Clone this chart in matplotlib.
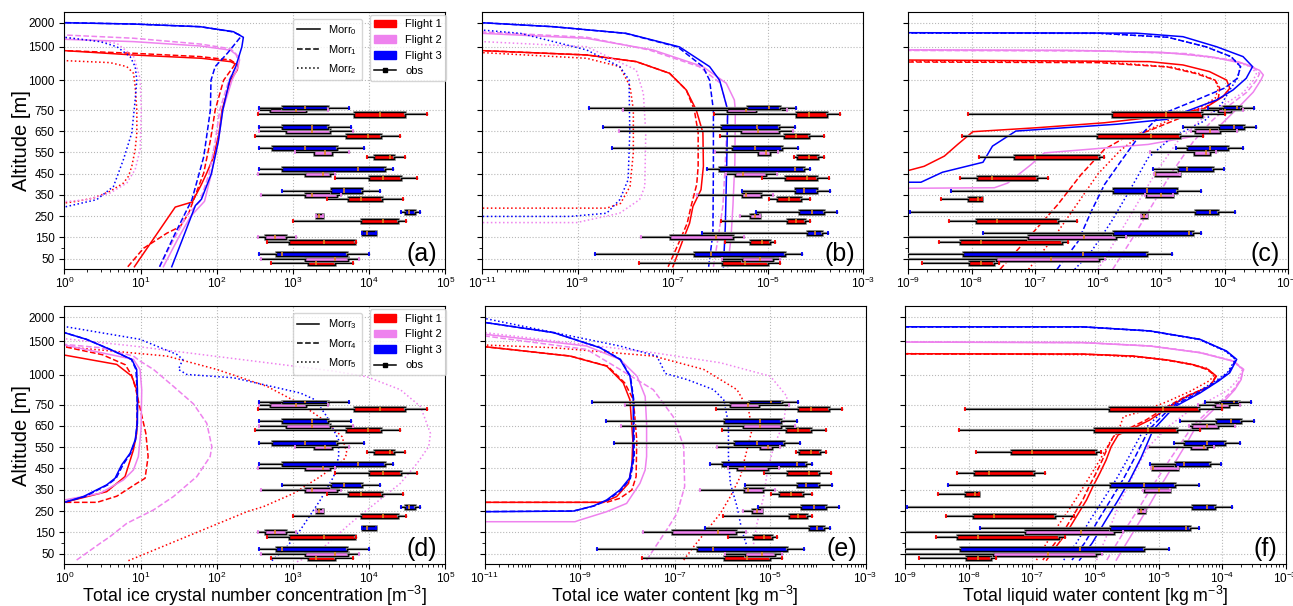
import numpy as np
import matplotlib
matplotlib.use("Agg")
import matplotlib.pyplot as plt
from matplotlib.patches import Patch
from matplotlib.lines import Line2D
import matplotlib.patheffects as pe

plt.rcParams['font.family'] = ['Liberation Sans', 'DejaVu Sans']
plt.rcParams['mathtext.fontset'] = 'custom'
plt.rcParams['mathtext.rm'] = 'Liberation Sans'
plt.rcParams['mathtext.it'] = 'Liberation Sans:italic'
plt.rcParams['mathtext.bf'] = 'Liberation Sans:bold'

# ---------------- observation levels and statistics (log10: min, q1, median, q3, max)
LEVELS = [50, 150, 250, 350, 450, 550, 650, 750]

NICE_F1 = [[2.711, 3.202, 3.307, 3.553, 3.789], [2.654, 2.943, 3.404, 3.82, 3.829],
           [2.996, 3.89, 4.184, 4.382, 4.487], [3.447, 3.719, 3.895, 4.171, 4.443],
           [3.557, 3.996, 4.184, 4.417, 4.623], [3.974, 4.070, 4.272, 4.329, 4.469],
           [2.509, 3.702, 3.987, 4.154, 4.404], [2.548, 3.798, 4.149, 4.469, 4.754]]
NICE_F2 = [[2.583, 3.154, 3.557, 3.724, 3.873], [2.548, 2.632, 2.768, 2.912, 3.04],
           [3.298, 3.298, 3.346, 3.39, 3.39], [2.583, 3.158, 3.246, 3.575, 3.636],
           [2.548, 3.154, 3.399, 3.487, 3.557], [3.022, 3.272, 3.417, 3.518, 3.732],
           [2.557, 2.908, 3.25, 3.487, 3.785], [2.557, 2.706, 3.035, 3.175, 3.461]]
NICE_F3 = [[2.557, 2.772, 2.86, 3.711, 4.004], [3.912, 3.912, 3.974, 4.088, 4.088],
           [4.421, 4.474, 4.526, 4.605, 4.662], [2.855, 3.504, 3.667, 3.908, 4.149],
           [2.557, 2.86, 3.855, 4.206, 4.311], [2.557, 2.732, 3.158, 3.579, 3.93],
           [2.557, 2.851, 3.25, 3.461, 3.768], [2.557, 2.855, 3.162, 3.456, 3.741]]

IWC_F1 = [[-7.702, -5.975, -5.491, -5.0, -4.761], [-5.898, -5.372, -5.14, -4.965, -4.86],
          [-5.996, -4.614, -4.411, -4.228, -4.116], [-4.979, -4.825, -4.558, -4.305, -4.116],
          [-5.133, -4.656, -4.186, -3.975, -3.716], [-4.453, -4.389, -4.137, -3.954, -3.828],
          [-6.011, -4.677, -4.425, -4.137, -3.835], [-6.137, -4.425, -4.151, -3.765, -3.491]]
IWC_F2 = [[-5.96, -5.54, -5.168, -4.909, -4.747], [-7.667, -7.063, -6.102, -5.73, -5.505],
          [-5.582, -5.386, -5.274, -5.182, -5.182], [-6.488, -5.547, -5.47, -5.154, -4.909],
          [-5.891, -5.695, -5.533, -5.049, -4.825], [-6.123, -5.218, -5.049, -4.958, -4.804],
          [-8.137, -5.568, -5.218, -4.775, -4.488], [-8.046, -5.856, -5.463, -5.246, -4.614]]
IWC_F3 = [[-8.642, -6.551, -6.207, -4.649, -4.298], [-6.382, -4.193, -4.011, -3.87, -3.744],
          [-5.26, -4.354, -4.081, -3.835, -3.547], [-5.54, -4.439, -4.249, -3.975, -3.702],
          [-6.277, -6.025, -4.446, -4.249, -4.116], [-8.277, -5.765, -5.274, -4.719, -4.375],
          [-8.46, -5.982, -5.225, -4.775, -4.446], [-8.754, -5.449, -4.979, -4.754, -4.418]]

LWC_F1 = [[-8.779, -8.042, -7.853, -7.642, -7.568], [-8.511, -8.179, -7.858, -6.579, -6.474],
          [-8.353, -7.937, -7.605, -6.632, -6.332], [-8.489, -8.063, -7.905, -7.832, -7.832],
          [-8.184, -7.921, -7.674, -6.974, -6.789], [-7.884, -7.337, -7.0, -5.984, -5.905],
          [-8.147, -6.016, -5.168, -4.711, -4.342], [-8.063, -5.789, -4.932, -4.358, -4.0]]
LWC_F2 = [[-9.05, -7.621, -6.747, -5.984, -5.895], [-9.2, -7.116, -6.226, -5.711, -5.563],
          [-5.326, -5.326, -5.274, -5.221, -5.221], [-5.253, -5.237, -5.0, -4.816, -4.816],
          [-5.121, -5.105, -5.095, -4.7, -4.7], [-5.174, -4.484, -4.289, -4.237, -4.132],
          [-4.526, -4.474, -4.237, -4.068, -3.8], [-4.384, -4.105, -4.0, -3.895, -3.711]]
LWC_F3 = [[-9.2, -8.132, -6.247, -5.232, -4.832], [-7.816, -5.763, -4.563, -4.5, -4.368],
          [-8.974, -4.474, -4.237, -4.105, -3.842], [-8.332, -5.763, -5.226, -4.747, -4.368],
          [-5.132, -4.737, -4.595, -4.184, -4.011], [-4.763, -4.595, -4.232, -3.947, -3.711],
          [-4.658, -4.095, -3.858, -3.695, -3.5], [-4.263, -4.026, -3.805, -3.737, -3.537]]

# ---------------- model profiles: (altitude m, log10 value)
A_F1_M0 = [(12, 0.92), (293, 1.456), (317, 1.68), (400, 1.8), (454, 1.87), (530, 1.96), (640, 2.03), (750, 2.07), (1000, 2.18), (1155, 2.27), (1230, 2.28), (1280, 2.18), (1330, 1.8), (1380, 0.9), (1445, 0.0), (1455, -0.3)]
A_F1_M1 = [(12, 0.833), (99, 1.04), (170, 1.346), (201, 1.52), (264, 1.632), (327, 1.697), (454, 1.83), (612, 1.92), (750, 1.98), (1000, 2.09), (1205, 2.22), (1255, 2.245), (1305, 2.18), (1355, 1.785), (1405, 0.908), (1445, 0.0), (1455, -0.3)]
A_F1_M2 = [(305, -0.3), (312, 0.0), (320, 0.16), (335, 0.38), (367, 0.6), (406, 0.776), (438, 0.842), (485, 0.886), (564, 0.93), (643, 0.952), (750, 0.952), (947, 0.93), (1105, 0.908), (1205, 0.82), (1265, 0.6), (1295, 0.0), (1300, -0.3)]
A_F2_M0 = [(12, 1.30), (150, 1.5), (250, 1.66), (320, 1.84), (450, 1.93), (600, 2.02), (750, 2.08), (1000, 2.2), (1200, 2.28), (1305, 2.30), (1355, 2.29), (1452, 2.18), (1520, 1.785), (1610, 0.908), (1658, 0.0), (1665, -0.3)]
A_F2_M1 = [(12, 1.25), (150, 1.45), (250, 1.6), (320, 1.78), (450, 1.9), (600, 1.98), (750, 2.04), (1000, 2.16), (1200, 2.25), (1305, 2.28), (1400, 2.25), (1473, 2.18), (1560, 1.785), (1680, 0.908), (1747, 0.0), (1755, -0.3)]
A_F2_M2 = [(312, -0.3), (318, 0.0), (328, 0.29), (359, 0.6), (406, 0.82), (470, 0.93), (564, 0.996), (750, 1.01), (1027, 0.995), (1355, 0.91), (1575, 0.69), (1699, 0.0), (1705, -0.3)]
A_F3_M0 = [(12, 1.41), (150, 1.56), (300, 1.72), (330, 1.8), (450, 1.93), (600, 2.02), (750, 2.08), (1000, 2.17), (1205, 2.25), (1500, 2.33), (1699, 2.35), (1815, 2.22), (1918, 1.785), (1973, 0.908), (2000, 0.0), (2005, -0.3)]
A_F3_M1 = [(12, 1.25), (170, 1.456), (328, 1.675), (530, 1.83), (750, 1.917), (1000, 1.925), (1205, 1.98), (1405, 2.14), (1699, 2.31), (1750, 2.3), (1815, 2.2), (1918, 1.785), (1973, 0.908), (2003, 0.0), (2008, -0.3)]
A_F3_M2 = [(285, -0.3), (293, 0.0), (328, 0.425), (390, 0.645), (517, 0.776), (643, 0.886), (834, 0.93), (1002, 0.952), (1205, 0.93), (1355, 0.864), (1505, 0.69), (1610, 0.47), (1699, 0.0), (1705, -0.3)]

B_F1_M0 = [(12, -7.0), (138, -6.79), (217, -6.65), (296, -6.58), (328, -6.51), (375, -6.41), (485, -6.36), (643, -6.37), (750, -6.51), (919, -6.72), (1105, -7.07), (1280, -7.77), (1380, -8.81), (1445, -11.0), (1450, -11.5)]
B_F1_M1 = [(12, -7.1), (138, -6.85), (217, -6.7), (296, -6.62), (400, -6.5), (485, -6.47), (643, -6.47), (750, -6.55), (919, -6.72), (1105, -7.07), (1280, -7.77), (1380, -8.81), (1445, -11.0), (1450, -11.5)]
B_F1_M2 = [(288, -11.5), (288, -8.39), (310, -8.1), (390, -7.9), (550, -7.83), (750, -7.83), (950, -7.9), (1205, -8.115), (1330, -8.81), (1415, -11.0), (1420, -11.5)]
B_F2_M0 = [(12, -5.85), (150, -5.78), (300, -5.74), (500, -5.7), (750, -5.69), (834, -5.71), (975, -5.88), (1205, -6.37), (1455, -7.42), (1678, -8.81), (1781, -11.0), (1785, -11.5)]
B_F2_M1 = [(12, -6.15), (150, -6.05), (300, -5.95), (500, -5.9), (750, -5.85), (975, -6.0), (1205, -6.45), (1455, -7.5), (1700, -8.81), (1810, -11.0), (1815, -11.5)]
B_F2_M2 = [(220, -11.5), (220, -9.02), (264, -8.12), (328, -7.7), (390, -7.59), (643, -7.57), (890, -7.62), (1155, -7.77), (1505, -8.81), (1610, -11.0), (1615, -11.5)]
B_F3_M0 = [(12, -5.94), (200, -5.9), (500, -5.87), (750, -5.85), (1000, -6.02), (1205, -6.23), (1500, -6.86), (1781, -7.98), (1918, -9.51), (2000, -11.0), (2005, -11.5)]
B_F3_M1 = [(12, -6.25), (170, -6.16), (485, -6.15), (750, -6.15), (1000, -6.23), (1205, -6.37), (1500, -6.9), (1781, -8.0), (1918, -9.51), (2000, -11.0), (2005, -11.5)]
B_F3_M2 = [(249, -11.5), (249, -9.16), (264, -8.39), (328, -8.115), (422, -7.94), (643, -7.905), (1005, -7.92), (1205, -8.115), (1455, -8.81), (1781, -10.2), (1849, -11.0), (1855, -11.5)]

C_F1_M0 = [(455, -9.3), (462, -9.04), (485, -8.75), (533, -8.43), (588, -8.22), (648, -7.98), (667, -6.95), (690, -5.9), (726, -4.84), (764, -4.32), (862, -4.03), (933, -3.92), (1003, -3.97), (1130, -4.24), (1230, -4.66), (1280, -5.19), (1295, -7.3), (1305, -9.3)]
C_F1_M1 = [(0, -7.55), (146, -7.11), (304, -6.64), (446, -6.27), (565, -5.9), (620, -5.58), (651, -5.21), (714, -4.69), (764, -4.32), (850, -4.1), (935, -4.08), (1000, -4.15), (1100, -4.45), (1200, -4.9), (1265, -6.0), (1275, -9.3)]
C_F1_M2 = [(0, -7.1), (150, -6.7), (300, -6.35), (450, -6.0), (560, -5.65), (650, -5.25), (714, -4.8), (764, -4.4), (850, -4.15), (935, -4.1), (1000, -4.15), (1100, -4.4), (1200, -4.85), (1280, -6.0), (1288, -9.3)]
C_F2_M0 = [(381, -9.3), (384, -7.64), (406, -7.43), (493, -7.06), (548, -6.85), (588, -5.21), (635, -4.32), (667, -4.11), (699, -4.0), (790, -3.75), (900, -3.55), (1000, -3.43), (1080, -3.39), (1150, -3.45), (1250, -3.7), (1350, -4.2), (1420, -5.0), (1450, -6.5), (1458, -9.3)]
C_F2_M1 = [(0, -5.77), (150, -5.45), (300, -5.15), (450, -4.85), (600, -4.5), (700, -4.2), (800, -3.9), (900, -3.65), (1000, -3.5), (1100, -3.45), (1200, -3.55), (1300, -3.85), (1400, -4.6), (1440, -6.0), (1448, -9.3)]
C_F2_M2 = [(0, -6.0), (150, -5.7), (300, -5.4), (450, -5.1), (600, -4.75), (700, -4.4), (800, -4.0), (900, -3.7), (1000, -3.55), (1100, -3.5), (1200, -3.58), (1300, -3.9), (1400, -4.7), (1445, -6.0), (1452, -9.3)]
C_F3_M0 = [(410, -9.3), (410, -8.8), (457, -8.46), (504, -7.82), (580, -7.67), (651, -7.3), (683, -5.71), (706, -4.92), (738, -4.66), (834, -4.13), (918, -3.87), (1030, -3.66), (1205, -3.56), (1355, -3.71), (1505, -4.13), (1712, -4.66), (1785, -5.4), (1795, -9.3)]
C_F3_M1 = [(0, -6.65), (28, -6.58), (130, -6.32), (272, -6.11), (399, -5.9), (509, -5.64), (620, -5.37), (730, -5.0), (834, -4.45), (935, -4.0), (1030, -3.8), (1205, -3.75), (1355, -3.9), (1505, -4.3), (1700, -4.9), (1785, -6.0), (1792, -9.3)]
C_F3_M2 = [(0, -6.37), (83, -6.11), (225, -5.79), (383, -5.48), (525, -5.21), (620, -4.84), (699, -4.32), (800, -4.05), (935, -3.9), (1030, -3.8), (1205, -3.75), (1355, -3.9), (1505, -4.3), (1700, -4.9), (1780, -6.0), (1788, -9.3)]

D_F1_M3 = [(291, -0.3), (291, 0.0), (341, 0.556), (412, 0.797), (537, 0.907), (615, 0.95), (790, 0.964), (875, 0.95), (989, 0.885), (1155, 0.688), (1295, 0.0), (1305, -0.3)]
D_F1_M4 = [(291, -0.3), (291, 0.43), (320, 0.69), (380, 0.95), (404, 1.06), (506, 1.1), (615, 1.07), (740, 0.99), (900, 0.93), (1000, 0.88), (1150, 0.8), (1300, 0.5), (1420, 0.0), (1430, -0.3)]
D_F1_M5 = [(17, 0.841), (247, 2.396), (271, 2.615), (333, 3.009), (412, 3.36), (490, 3.666), (521, 3.71), (600, 3.644), (678, 3.403), (756, 3.097), (903, 2.659), (1080, 2.0), (1280, 1.345), (1420, 0.0), (1430, -0.3)]
D_F2_M3 = [(300, -0.3), (302, 0.0), (333, 0.469), (396, 0.775), (443, 0.907), (506, 0.972), (631, 1.007), (875, 1.016), (1080, 0.994), (1230, 0.907), (1445, 0.0), (1460, -0.3)]
D_F2_M4 = [(20, 0.162), (98, 0.469), (130, 0.6), (192, 0.819), (208, 0.907), (255, 1.17), (318, 1.432), (412, 1.739), (506, 1.914), (553, 1.936), (662, 1.87), (756, 1.695), (903, 1.432), (1080, 1.17), (1205, 0.994), (1280, 0.907), (1405, 0.469), (1455, 0.0), (1465, -0.3)]
D_F2_M5 = [(12, 3.053), (52, 3.316), (192, 3.754), (318, 4.192), (380, 4.41), (474, 4.63), (553, 4.783), (615, 4.805), (741, 4.674), (875, 4.41), (983, 3.973), (1055, 3.535), (1180, 2.659), (1305, 1.783), (1430, 0.907), (1555, 0.0), (1565, -0.3)]
D_F3_M3 = [(291, -0.3), (291, 0.0), (318, 0.25), (373, 0.556), (404, 0.666), (467, 0.753), (521, 0.863), (584, 0.93), (662, 0.96), (875, 0.96), (1080, 0.95), (1230, 0.885), (1380, 0.6), (1542, 0.29), (1680, 0.0), (1700, -0.3)]
D_F3_M4 = [(291, -0.3), (291, 0.0), (318, 0.27), (373, 0.57), (404, 0.68), (467, 0.77), (521, 0.87), (584, 0.935), (662, 0.955), (875, 0.955), (1080, 0.94), (1230, 0.88), (1380, 0.6), (1542, 0.29), (1680, 0.0), (1700, -0.3)]
D_F3_M5 = [(17, 2.724), (83, 2.922), (161, 3.097), (302, 3.36), (412, 3.535), (506, 3.6), (584, 3.6), (693, 3.447), (790, 3.294), (847, 3.097), (975, 2.22), (1005, 1.607), (1080, 1.498), (1230, 1.555), (1305, 1.476), (1542, 0.994), (1806, 0.0), (1815, -0.3)]

E_F1_M3 = [(291, -11.5), (291, -8.51), (318, -8.23), (380, -7.98), (459, -7.91), (584, -7.89), (790, -7.95), (932, -8.09), (1130, -8.44), (1280, -9.21), (1420, -11.0), (1425, -11.5)]
E_F1_M4 = [(291, -11.5), (291, -8.44), (310, -8.16), (349, -7.91), (412, -7.82), (584, -7.807), (790, -7.877), (932, -8.06), (1130, -8.42), (1280, -9.2), (1420, -11.0), (1425, -11.5)]
E_F1_M5 = [(20, -6.82), (83, -6.61), (161, -6.33), (239, -6.05), (318, -5.84), (412, -5.63), (506, -5.526), (631, -5.386), (725, -5.456), (875, -5.7), (1080, -6.4), (1280, -7.456), (1405, -9.56), (1445, -11.0), (1455, -11.5)]
E_F2_M3 = [(200, -11.5), (200, -9.105), (208, -9.0), (247, -8.44), (286, -8.02), (380, -7.74), (443, -7.63), (506, -7.6), (662, -7.6), (818, -7.63), (988, -7.8), (1230, -8.16), (1430, -8.86), (1646, -11.0), (1650, -11.5)]
E_F2_M4 = [(20, -7.6), (67, -7.46), (161, -7.18), (239, -6.96), (365, -6.8), (553, -6.82), (693, -7.04), (875, -7.46), (1080, -8.16), (1380, -8.86), (1611, -11.0), (1620, -11.5)]
E_F2_M5 = [(20, -5.42), (98, -5.35), (192, -5.28), (318, -5.14), (427, -5.07), (553, -4.93), (662, -4.72), (818, -4.65), (988, -5.0), (1180, -6.05), (1330, -7.456), (1680, -11.0), (1690, -11.5)]
E_F3_M3 = [(247, -11.5), (247, -11.0), (250, -9.14), (274, -8.72), (302, -8.44), (349, -8.16), (404, -7.96), (506, -7.88), (790, -7.88), (988, -7.95), (1230, -8.16), (1405, -8.58), (1680, -9.56), (1889, -11.0), (1895, -11.5)]
E_F3_M4 = [(247, -11.5), (250, -9.14), (274, -8.7), (302, -8.41), (349, -8.13), (404, -7.94), (506, -7.86), (790, -7.87), (988, -7.94), (1230, -8.15), (1405, -8.57), (1680, -9.55), (1889, -11.0), (1895, -11.5)]
E_F3_M5 = [(20, -5.45), (83, -5.49), (161, -5.6), (271, -5.7), (380, -5.84), (506, -5.88), (662, -5.88), (790, -5.98), (875, -6.19), (960, -6.75), (1020, -7.21), (1130, -7.28), (1280, -7.386), (1430, -8.16), (1972, -11.0), (1980, -11.5)]

F_F1_M3 = [(20, -6.77), (83, -6.62), (146, -6.46), (224, -6.3), (302, -6.14), (365, -6.04), (428, -5.93), (490, -5.83), (553, -5.75), (608, -5.64), (631, -5.46), (678, -5.14), (740, -4.83), (818, -4.56), (903, -4.195), (988, -4.09), (1080, -4.22), (1150, -4.45), (1220, -4.85), (1280, -5.4), (1310, -6.2), (1315, -9.3)]
F_F1_M4 = [(20, -6.83), (83, -6.68), (146, -6.52), (224, -6.36), (302, -6.2), (365, -6.1), (428, -5.99), (490, -5.89), (553, -5.8), (608, -5.7), (631, -5.52), (678, -5.2), (740, -4.87), (818, -4.58), (903, -4.2), (988, -4.1), (1080, -4.24), (1150, -4.47), (1220, -4.88), (1278, -5.4), (1308, -6.2), (1313, -9.3)]
F_F1_M5 = [(20, -6.93), (100, -6.77), (177, -6.6), (255, -6.42), (334, -6.25), (412, -6.09), (490, -5.93), (569, -5.78), (640, -5.62), (693, -5.56), (715, -5.3), (772, -4.88), (860, -4.51), (950, -4.2), (1000, -4.12), (1100, -4.25), (1180, -4.6), (1250, -5.1), (1300, -6.0), (1318, -9.3)]
F_F2_M3 = [(20, -5.67), (99, -5.51), (177, -5.35), (256, -5.19), (334, -5.04), (412, -4.88), (490, -4.72), (569, -4.56), (647, -4.41), (725, -4.14), (800, -3.93), (875, -3.8), (960, -3.7), (1080, -3.67), (1205, -3.83), (1330, -4.35), (1430, -5.14), (1480, -6.19), (1490, -9.3)]
F_F2_M4 = [(20, -5.82), (99, -5.66), (177, -5.5), (256, -5.33), (334, -5.17), (412, -5.0), (490, -4.83), (569, -4.65), (647, -4.47), (725, -4.2), (800, -3.97), (875, -3.82), (960, -3.71), (1080, -3.66), (1205, -3.82), (1330, -4.33), (1430, -5.12), (1482, -6.19), (1492, -9.3)]
F_F2_M5 = [(20, -5.98), (150, -5.8), (300, -5.6), (450, -5.35), (550, -5.17), (647, -4.85), (725, -4.5), (800, -4.15), (875, -3.9), (960, -3.75), (1080, -3.68), (1205, -3.83), (1330, -4.33), (1430, -5.12), (1484, -6.2), (1495, -9.3)]
F_F3_M3 = [(20, -6.25), (100, -6.05), (200, -5.85), (302, -5.64), (400, -5.45), (500, -5.28), (631, -5.09), (740, -4.75), (847, -4.35), (950, -4.05), (1030, -3.88), (1230, -3.77), (1355, -3.93), (1542, -4.35), (1715, -5.14), (1799, -6.19), (1800, -9.3)]
F_F3_M4 = [(20, -6.37), (100, -6.17), (200, -5.97), (302, -5.76), (400, -5.56), (500, -5.38), (631, -5.16), (740, -4.8), (847, -4.38), (950, -4.07), (1030, -3.9), (1230, -3.78), (1355, -3.94), (1542, -4.36), (1715, -5.15), (1797, -6.2), (1799, -9.3)]
F_F3_M5 = [(20, -6.5), (100, -6.3), (200, -6.1), (302, -5.88), (400, -5.67), (500, -5.48), (631, -5.24), (740, -4.86), (847, -4.42), (950, -4.1), (1030, -3.92), (1230, -3.79), (1355, -3.95), (1542, -4.37), (1715, -5.16), (1798, -6.2), (1800, -9.3)]

FLIGHT_COLORS = ['#ff0000', '#ee82ee', '#0000ff']
STYLES = ['-', '--', ':']
YTICKS = [50, 150, 250, 350, 450, 550, 650, 750, 1000, 1500, 2000]

# ---------------- non-uniform altitude axis (stretched below 750 m)
Z_KNOTS = [0, 750, 1000, 1500, 2000, 3000]
U_KNOTS = [0, 750, 890, 1047, 1161, 1390]


def fwd(z):
    return np.interp(np.asarray(z, dtype=float), Z_KNOTS, U_KNOTS)


def inv(u):
    return np.interp(np.asarray(u, dtype=float), U_KNOTS, Z_KNOTS)


W, H = 1293, 606
fig = plt.figure(figsize=(W / 100, H / 100), dpi=100)


def add_ax(x0, x1, ytop, ybot):
    return fig.add_axes([x0 / W, 1 - ybot / H, (x1 - x0) / W, (ybot - ytop) / H])


panels = [
    dict(pos=(64.3, 445.3, 11.7, 269.3), xlim=(1e0, 1e5), xt=[1e0, 1e1, 1e2, 1e3, 1e4, 1e5],
         lines=[A_F1_M0, A_F1_M1, A_F1_M2, A_F2_M0, A_F2_M1, A_F2_M2, A_F3_M0, A_F3_M1, A_F3_M2],
         obs=[NICE_F1, NICE_F2, NICE_F3], letter='(a)', models=[0, 1, 2]),
    dict(pos=(482.3, 863.5, 11.7, 269.3), xlim=(1e-11, 1e-3), xt=[1e-11, 1e-9, 1e-7, 1e-5, 1e-3],
         lines=[B_F1_M0, B_F1_M1, B_F1_M2, B_F2_M0, B_F2_M1, B_F2_M2, B_F3_M0, B_F3_M1, B_F3_M2],
         obs=[IWC_F1, IWC_F2, IWC_F3], letter='(b)'),
    dict(pos=(908.3, 1288.0, 11.7, 269.3), xlim=(1e-9, 1e-3), xt=[1e-9, 1e-8, 1e-7, 1e-6, 1e-5, 1e-4, 1e-3],
         lines=[C_F1_M0, C_F1_M1, C_F1_M2, C_F2_M0, C_F2_M1, C_F2_M2, C_F3_M0, C_F3_M1, C_F3_M2],
         obs=[LWC_F1, LWC_F2, LWC_F3], letter='(c)'),
    dict(pos=(64.3, 445.3, 306.0, 564.3), xlim=(1e0, 1e5), xt=[1e0, 1e1, 1e2, 1e3, 1e4, 1e5],
         lines=[D_F1_M3, D_F1_M4, D_F1_M5, D_F2_M3, D_F2_M4, D_F2_M5, D_F3_M3, D_F3_M4, D_F3_M5],
         obs=[NICE_F1, NICE_F2, NICE_F3], letter='(d)', models=[3, 4, 5],
         xlabel='Total ice crystal number concentration [m$^{-3}$]'),
    dict(pos=(484.8, 865.5, 306.0, 564.3), xlim=(1e-11, 1e-3), xt=[1e-11, 1e-9, 1e-7, 1e-5, 1e-3],
         lines=[E_F1_M3, E_F1_M4, E_F1_M5, E_F2_M3, E_F2_M4, E_F2_M5, E_F3_M3, E_F3_M4, E_F3_M5],
         obs=[IWC_F1, IWC_F2, IWC_F3], letter='(e)',
         xlabel='Total ice water content [kg m$^{-3}$]'),
    dict(pos=(905.3, 1285.5, 306.0, 564.3), xlim=(1e-9, 1e-3), xt=[1e-9, 1e-8, 1e-7, 1e-6, 1e-5, 1e-4, 1e-3],
         lines=[F_F1_M3, F_F1_M4, F_F1_M5, F_F2_M3, F_F2_M4, F_F2_M5, F_F3_M3, F_F3_M4, F_F3_M5],
         obs=[LWC_F1, LWC_F2, LWC_F3], letter='(f)',
         xlabel='Total liquid water content [kg m$^{-3}$]'),
]

OFFSETS = [-21, 0, 21]

for i, p in enumerate(panels):
    ax = add_ax(*p['pos'])
    ax.set_xscale('log')
    ax.set_yscale('function', functions=(fwd, inv))
    ax.set_xlim(*p['xlim'])
    ax.set_ylim(0, 2227)

    # model lines
    for k, prof in enumerate(p['lines']):
        arr = np.array(prof, dtype=float)
        ax.plot(10 ** arr[:, 1], arr[:, 0], color=FLIGHT_COLORS[k // 3],
                ls=STYLES[k % 3], lw=1.1, zorder=2)

    # observations
    for f, stats in enumerate(p['obs']):
        col = FLIGHT_COLORS[f]
        bstats = []
        for s in stats:
            v = 10 ** np.array(s)
            bstats.append(dict(whislo=v[0], q1=v[1], med=v[2], q3=v[3], whishi=v[4]))
        pos = [lv + OFFSETS[f] for lv in LEVELS]
        bp = ax.bxp(bstats, positions=pos, widths=19, orientation='horizontal',
                    patch_artist=True, showcaps=False, showfliers=False,
                    manage_ticks=False,
                    boxprops=dict(facecolor=col, edgecolor='k', linewidth=1.0),
                    whiskerprops=dict(color='k', linewidth=0.9),
                    medianprops=dict(color='#e08a1e', linewidth=1.2), zorder=4)
        for b in bp['boxes']:
            b.set_path_effects([pe.Stroke(linewidth=2.0, foreground='0.6'), pe.Normal()])
        for w in bp['whiskers']:
            w.set_path_effects([pe.Stroke(linewidth=1.6, foreground='0.55'), pe.Normal()])
        lo = [10 ** s[0] for s in stats]
        hi = [10 ** s[4] for s in stats]
        ax.plot(lo + hi, pos + pos, ls='none', marker='|', ms=3.2, mew=1.3,
                color=col, zorder=5)

    ax.set_xticks(p['xt'])
    ax.set_yticks(YTICKS)
    ax.set_yticks([100], minor=True)
    ax.grid(True, which='major', ls=':', color='0.72', lw=0.8)
    ax.set_axisbelow(True)
    ax.tick_params(labelsize=8.5)
    ax.tick_params(axis='x', which='major', pad=1.0)
    if i % 3 == 0:
        ax.set_yticklabels([str(t) for t in YTICKS])
        ax.set_ylabel('Altitude [m]', fontsize=14.5, labelpad=-2)
    else:
        ax.set_yticklabels([])
    if 'xlabel' in p:
        ax.set_xlabel(p['xlabel'], fontsize=12.8)
        ax.xaxis.set_label_coords(0.5, -0.0765)

    ax.text(0.979, 0.012, p['letter'], transform=ax.transAxes, ha='right',
            va='bottom', fontsize=18, zorder=6)

    if 'models' in p:
        sh = [Line2D([], [], color='k', ls=s, lw=1.1) for s in STYLES]
        leg1 = ax.legend(sh, ['Morr$_{%d}$' % m for m in p['models']], loc='upper right',
                         bbox_to_anchor=(0.781, 0.972), borderaxespad=0, fontsize=8)
        ax.add_artist(leg1)
        ch = [Patch(color=c) for c in FLIGHT_COLORS]
        ch.append(Line2D([], [], color='k', marker='s', ms=3, lw=1.1))
        ax.legend(ch, ['Flight 1', 'Flight 2', 'Flight 3', 'obs'], loc='upper right',
                  bbox_to_anchor=(1.003, 0.987), borderaxespad=0, fontsize=8)

fig.savefig('out.png', dpi=100)
